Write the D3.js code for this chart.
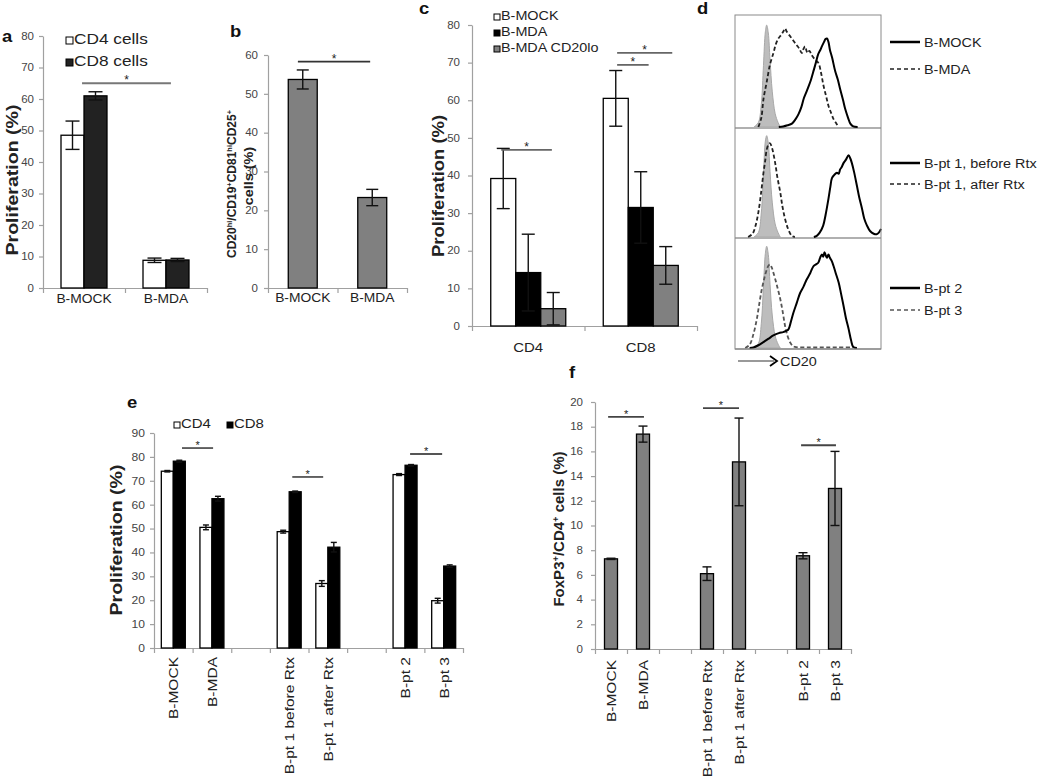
<!DOCTYPE html>
<html><head><meta charset="utf-8">
<script src="https://cdn.jsdelivr.net/npm/d3@7"></script>
<style>
body{margin:0;background:#fff}
svg{display:block}
text{font-family:"Liberation Sans",Arial,Helvetica,sans-serif}
</style>
</head><body>
<svg id="chart" width="1050" height="777"></svg>
<script>
// ================= DATA =================
// Panel a
const aCats = ["B-MOCK", "B-MDA"];
const aSeries = ["CD4 cells", "CD8 cells"];
const aCD4 = [48.5, 8.8];
const aCD4err = [4.5, 0.7];
const aCD8 = [61.0, 8.9];
const aCD8err = [1.3, 0.5];
const aTicks = [0, 10, 20, 30, 40, 50, 60, 70, 80];
const aSig = [[0.476, 1.56, 65]];          // [from (category units), to, value]

// Panel b
const bCats = ["B-MOCK", "B-MDA"];
const bValues = [53.7, 23.3];
const bErr = [2.45, 2.1];
const bTicks = [0, 10, 20, 30, 40, 50, 60];
const bSig = [[0.43, 1.47, 58.3]];

// Panel c
const cCats = ["CD4", "CD8"];
const cSeries = ["B-MOCK", "B-MDA", "B-MDA CD20lo"];
const cMock = [39.2, 60.5];
const cMockErr = [8.0, 7.4];
const cMda = [14.2, 31.5];
const cMdaErr = [10.2, 9.5];
const cLo = [4.6, 16.1];
const cLoErr = [4.3, 5.0];
const cTicks = [0, 10, 20, 30, 40, 50, 60, 70, 80];
const cSig = [[0.26, 0.71, 46.8], [1.29, 1.57, 69.4], [1.29, 1.78, 72.6]];

// Panel d (flow histograms, x: CD20 intensity 0-100, y: % of max)
const dLegend = [["B-MOCK", "B-MDA"], ["B-pt 1, before Rtx", "B-pt 1, after Rtx"], ["B-pt 2", "B-pt 3"]];
const dControl1 = [[13,0],[16,4],[18,20],[19.5,55],[20.8,85],[21.7,91],[22.8,84],[24,60],[25.5,32],[27.5,12],[29.5,4],[31,0]];
const dControl2 = [[13,0],[16,4],[18,22],[19.5,58],[20.8,88],[21.7,93],[22.8,86],[24,60],[25.5,32],[27.5,12],[29.5,4],[31,0]];
const dControl3 = [[13,0],[16,4],[18,22],[19.5,56],[20.8,86],[21.7,92.5],[22.8,85],[24,58],[25.5,30],[27.5,11],[29.5,3.5],[31,0]];
const dSolid1 = [[30,0],[33,0.5],[36,1.5],[39,3],[41.5,7],[43.5,11.5],[45.5,18],[47,25],[48.5,30],[50,35],[52,42],[54,51],[55.5,58],[57,65],[58.5,69],[59.5,72],[61,76],[62,78.5],[63,79],[64,76],[65,69],[66.5,62],[68.6,50],[70.5,42],[72,34],[74,24],[75.5,16],[77.5,8],[79,3],[81,0.5],[84,0]];
const dDash1 = [[16,0],[18,8],[19.5,25],[21.7,40],[24,56],[26.3,66],[28,74],[29.7,79],[31.5,82],[33,85],[34.3,88],[35.5,85],[37.8,81],[40,77],[42.3,73],[44,70],[45.8,66],[47,70],[48,72],[49,68],[49.7,66],[51,68],[52.6,64],[55,60],[57.2,57],[59,48],[60.6,37],[62.5,27],[64,19],[66,12],[67.5,7],[69.5,3],[71,0]];
const dSolid2 = [[54,0],[56,1],[58,4],[60.4,10.5],[62,20],[64,35],[65.3,46],[66.4,54],[68,57],[69.8,59],[71,58],[72,62],[73,64],[74.4,68],[76,71],[77.8,75],[79,72],[80,68],[81.5,60],[83.5,47],[85,37],[87,26],[88.5,17],[90.4,10.5],[92.5,5.5],[95,3],[97,2.5],[98.5,4],[100,7.5]];
const dDash2 = [[9,0],[12,3],[14,10],[16,22.6],[18,42],[19.5,59],[20.7,70],[21.7,80],[23,85],[24,86],[25.3,82],[27.5,68],[29,55],[31,41],[32.5,28],[34.3,16.5],[36.5,7],[39,1],[41,0]];
const dSolid3 = [[10,0],[12.6,0.5],[16,2.5],[19.5,5.4],[23,8.5],[26.3,11.4],[30,13.5],[33,14.4],[35,15.5],[36.6,17],[38.3,24],[40,32],[42.3,41],[44.6,50],[47,56],[49,62],[51.5,68],[53.8,74.5],[55.5,76],[57,77.5],[58.3,82],[59.5,85],[60.4,83],[61.3,87],[62.2,84],[63,82],[64,85],[65,82],[66.3,79],[67.5,74.5],[69,68],[71,59.5],[72.7,49],[74.4,38],[76,27],[77.8,17.4],[79.5,7],[81,1],[83.5,0]];
const dDash3 = [[7,0],[10,3],[12.5,12],[14.9,26],[16.5,39],[18.3,53],[20,63],[21.7,71],[23,75],[24,76],[25.2,73],[26.3,68.5],[28.5,58],[31,44.5],[32.8,32],[34.3,20],[36,11],[37.8,5],[39.5,2],[41,1],[50,0.5],[60,0.5],[70,0.5],[81,0.5]];
const dAxisLabel = "CD20";

// Panel e
const eCats = ["B-MOCK", "B-MDA", "", "B-pt 1 before Rtx", "B-pt 1 after Rtx", "", "B-pt 2", "B-pt 3"];
const eSeries = ["CD4", "CD8"];
const eCD4 = [74.0, 50.5, null, 48.7, 27.0, null, 72.6, 19.8];
const eCD4err = [0.3, 1.0, null, 0.6, 1.2, null, 0.4, 1.0];
const eCD8 = [78.2, 62.5, null, 65.4, 42.2, null, 76.5, 34.3];
const eCD8err = [0.4, 1.0, null, 0.3, 2.0, null, 0.3, 0.5];
const eTicks = [0, 10, 20, 30, 40, 50, 60, 70, 80, 90];
const eSig = [[0.725, 1.53, 83.7], [3.58, 4.38, 71.6], [6.63, 7.46, 81.2]];

// Panel f
const fCats = ["B-MOCK", "B-MDA", "", "B-pt 1 before Rtx", "B-pt 1 after Rtx", "", "B-pt 2", "B-pt 3"];
const fValues = [7.3, 17.4, null, 6.1, 15.15, null, 7.55, 13.0];
const fErr = [0.05, 0.65, null, 0.55, 3.55, null, 0.25, 3.0];
const fTicks = [0, 2, 4, 6, 8, 10, 12, 14, 16, 18, 20];
const fSig = [[0.41, 1.53, 18.8], [3.375, 4.5, 19.5], [6.44, 7.53, 16.5]];

// ================= DRAWING =================
const svg = d3.select("#chart");
svg.append("rect").attr("width", 1050).attr("height", 777).attr("fill", "#fff");
const AX = "#a0a0a0", TXT = "#444", INK = "#222";
const WIDEN = 1.15;

function yAxis(y, x, ticks, pad, fs) {
  const g = svg.append("g").attr("transform", `translate(${x},0)`)
    .call(d3.axisLeft(y).tickValues(ticks).tickSize(4).tickSizeOuter(0).tickPadding(pad));
  g.select(".domain").attr("stroke", AX).attr("stroke-width", 1.2);
  g.selectAll(".tick line").attr("stroke", AX).attr("stroke-width", 1.2);
  g.selectAll(".tick text").attr("fill", TXT).attr("font-size", fs).attr("font-family", null);
  return g;
}
function xAxis(n, x0, x1, yPix) {
  const xi = d3.scaleLinear([0, n], [x0, x1]);
  const g = svg.append("g").attr("transform", `translate(0,${yPix})`)
    .call(d3.axisBottom(xi).tickValues(d3.range(n + 1)).tickFormat("").tickSize(5).tickSizeOuter(0));
  g.select(".domain").attr("stroke", AX).attr("stroke-width", 1.2);
  g.selectAll(".tick line").attr("stroke", AX).attr("stroke-width", 1.2);
  return xi;
}
function groupBars(nCats, x0, x1, y, series, errs, fills, padOuter, capW) {
  const band = d3.scaleBand().domain(d3.range(nCats)).range([x0, x1]);
  const inner = d3.scaleBand().domain(d3.range(series.length)).range([0, band.bandwidth()]).paddingOuter(padOuter);
  const recs = [];
  series.forEach((s, j) => s.forEach((v, i) => { if (v != null) recs.push({ i, j, v, e: errs[j][i] }); }));
  const g = svg.append("g");
  g.selectAll("rect").data(recs).join("rect")
    .attr("x", d => band(d.i) + inner(d.j)).attr("width", inner.bandwidth())
    .attr("y", d => y(d.v)).attr("height", d => y(0) - y(d.v))
    .attr("fill", d => fills[d.j]).attr("stroke", "#000").attr("stroke-width", 1.3);
  const cx = d => band(d.i) + inner(d.j) + inner.bandwidth() / 2;
  const eb = g.selectAll("g.err").data(recs).join("g").attr("class", "err");
  eb.append("line").attr("x1", cx).attr("x2", cx)
    .attr("y1", d => y(d.v - d.e)).attr("y2", d => y(d.v + d.e));
  eb.append("line").attr("x1", d => cx(d) - capW / 2).attr("x2", d => cx(d) + capW / 2)
    .attr("y1", d => y(d.v + d.e)).attr("y2", d => y(d.v + d.e));
  eb.append("line").attr("x1", d => cx(d) - capW / 2).attr("x2", d => cx(d) + capW / 2)
    .attr("y1", d => y(d.v - d.e)).attr("y2", d => y(d.v - d.e));
  eb.selectAll("line").attr("stroke", "#111").attr("stroke-width", 1.4);
  return band;
}
function sig(xi, y, list, color, fs) {
  const g = svg.append("g");
  list.forEach(s => {
    g.append("line").attr("x1", xi(s[0])).attr("x2", xi(s[1]))
      .attr("y1", y(s[2])).attr("y2", y(s[2])).attr("stroke", color).attr("stroke-width", 1.8);
    g.append("text").attr("x", (xi(s[0]) + xi(s[1])) / 2).attr("y", y(s[2]) + 1)
      .attr("text-anchor", "middle").attr("font-size", fs).attr("fill", INK).text("*");
  });
}
function vTitle(x, y, fs, str) {
  svg.append("text").attr("transform", `translate(${x},${y}) rotate(-90)`)
    .attr("text-anchor", "middle").attr("font-size", fs).attr("font-weight", "bold")
    .attr("fill", INK).text(str);
}
function vTitleSup(x, y, fs, parts) {
  const t = svg.append("text").attr("transform", `translate(${x},${y}) rotate(-90)`)
    .attr("text-anchor", "middle").attr("font-size", fs).attr("font-weight", "bold").attr("fill", INK);
  parts.forEach(p => {
    const ts = t.append("tspan").text(p[0]);
    if (p[1]) ts.attr("font-size", fs * 0.62).attr("baseline-shift", "super");
  });
}
function label(x, y, str) {
  svg.append("text").attr("x", x).attr("y", y).attr("font-size", 16).attr("font-weight", "bold")
    .attr("fill", "#111").text(str);
}
function xLabels(band, cats, y, fs) {
  svg.append("g").selectAll("text").data(cats).join("text")
    .attr("x", (d, i) => band(i) + band.bandwidth() / 2).attr("y", y)
    .attr("text-anchor", "middle").attr("font-size", fs).attr("fill", INK).text(d => d);
}
function xLabelsRot(band, cats, y, fs, dx) {
  svg.append("g").selectAll("text").data(cats).join("text")
    .attr("transform", (d, i) => `translate(${band(i) + band.bandwidth() / 2 + dx},${y}) rotate(-90)`)
    .attr("text-anchor", "end").attr("font-size", fs).attr("fill", INK).text(d => d);
}
function legendBox(x, y, fill, str, fs, sz) {
  svg.append("rect").attr("x", x).attr("y", y - sz).attr("width", sz).attr("height", sz)
    .attr("fill", fill).attr("stroke", "#000").attr("stroke-width", 1);
  svg.append("text").attr("x", x + sz + 1).attr("y", y).attr("font-size", fs).attr("fill", INK).text(str);
}

// ---------- Panel a ----------
const aY = d3.scaleLinear([0, 80], [288, 36]);
yAxis(aY, 43, aTicks, 5, 10);
const aXi = xAxis(aCats.length, 43, 207, 288);
const aBand = groupBars(aCats.length, 43, 207, aY, [aCD4, aCD8], [aCD4err, aCD8err], ["#fff", "#222"], 0.783, 14);
sig(aXi, aY, aSig, "#777", 12);
xLabels(aBand, aCats, 303, 12);
legendBox(66, 44, "#fff", aSeries[0], 15, 7);
legendBox(66, 66, "#222", aSeries[1], 15, 7);
vTitle(18, 180, 17, "Proliferation (%)");
label(2, 42, "a");

// ---------- Panel b ----------
const bY = d3.scaleLinear([0, 60], [288, 55]);
yAxis(bY, 268, bTicks, 6, 10);
const bXi = xAxis(bCats.length, 268, 407, 288);
const bBand = groupBars(bCats.length, 268, 407, bY, [bValues], [bErr], ["#808080"], 0.7, 12);
sig(bXi, bY, bSig, "#333", 12);
xLabels(bBand, bCats, 302, 12);
vTitleSup(236, 184, 12, [["CD20", 0], ["hi", 1], ["/CD19", 0], ["+", 1], ["CD81", 0], ["hi", 1], ["CD25", 0], ["+", 1]]);
vTitle(253, 176, 12.5, "cells (%)");
label(230, 37, "b");

// ---------- Panel c ----------
const cY = d3.scaleLinear([0, 80], [326, 25]);
yAxis(cY, 472, cTicks, 8, 10);
const cXi = xAxis(cCats.length, 472, 697, 326);
const cBand = groupBars(cCats.length, 472, 697, cY, [cMock, cMda, cLo], [cMockErr, cMdaErr, cLoErr], ["#fff", "#000", "#808080"], 0.75, 13);
sig(cXi, cY, cSig, "#666", 12);
xLabels(cBand, cCats, 352, 13);
legendBox(494, 20, "#fff", cSeries[0], 12.5, 6);
legendBox(494, 36, "#000", cSeries[1], 12.5, 6);
legendBox(494, 52, "#808080", cSeries[2], 12.5, 6);
vTitle(444, 186, 16, "Proliferation (%)");
label(419, 14, "c");

// ---------- Panel d ----------
const dX = d3.scaleLinear([0, 100], [735, 881]);
const dPanels = [[15, 128], [128, 238], [238, 349]];
const dControls = [dControl1, dControl2, dControl3];
const dSolids = [dSolid1, dSolid2, dSolid3];
const dDashes = [dDash1, dDash2, dDash3];
const dLegY = [[42, 69], [163, 184], [288, 310]];
dPanels.forEach((p, k) => {
  const yD = d3.scaleLinear([0, 100], [p[1] - 1, p[0]]);
  const area = d3.area().x(d => dX(d[0])).y0(yD(0)).y1(d => yD(d[1])).curve(d3.curveCatmullRom);
  const line = d3.line().x(d => dX(d[0])).y(d => yD(d[1])).curve(d3.curveCatmullRom);
  svg.append("path").attr("d", area(dControls[k])).attr("fill", "#bdbdbd").attr("stroke", "#a8a8a8").attr("stroke-width", 1);
  svg.append("line").attr("x1", dX(0)).attr("x2", dX(100)).attr("y1", p[1]).attr("y2", p[1])
    .attr("stroke", "#b0b0b0").attr("stroke-width", 2);
  svg.append("path").attr("d", line(dDashes[k])).attr("fill", "none")
    .attr("stroke", k === 2 ? "#555" : "#222").attr("stroke-width", 1.8).attr("stroke-dasharray", "4,2.5");
  svg.append("path").attr("d", line(dSolids[k])).attr("fill", "none")
    .attr("stroke", "#000").attr("stroke-width", 2);
  dLegend[k].forEach((lab, j) => {
    const ly = dLegY[k][j];
    svg.append("line").attr("x1", 890).attr("x2", 920).attr("y1", ly).attr("y2", ly)
      .attr("stroke", j === 0 ? "#000" : (k === 2 ? "#555" : "#222"))
      .attr("stroke-width", j === 0 ? 2.5 : 1.6).attr("stroke-dasharray", j === 0 ? null : "4,3");
    svg.append("text").attr("x", 924).attr("y", ly + 4.5).attr("font-size", 12.5).attr("fill", INK).text(lab);
  });
});
svg.append("rect").attr("x", 735).attr("y", 15).attr("width", 146).attr("height", 334)
  .attr("fill", "none").attr("stroke", "#8a8a8a").attr("stroke-width", 1);
svg.append("line").attr("x1", 738).attr("x2", 774).attr("y1", 361).attr("y2", 361).attr("stroke", "#777").attr("stroke-width", 1.6);
svg.append("path").attr("d", "M770,356 L777,361 L770,366").attr("fill", "none").attr("stroke", "#000").attr("stroke-width", 1.8);
svg.append("text").attr("x", 780).attr("y", 366).attr("font-size", 12.5).attr("fill", INK).text(dAxisLabel);
label(697, 14, "d");

// ---------- Panel e ----------
const eY = d3.scaleLinear([0, 90], [648, 433]);
yAxis(eY, 154, eTicks, 5, 10.5);
const eXi = xAxis(eCats.length, 154, 463, 648);
const eBand = groupBars(eCats.length, 154, 463, eY, [eCD4, eCD8], [eCD4err, eCD8err], ["#fff", "#000"], 0.61, 6);
sig(eXi, eY, eSig, "#555", 11);
xLabelsRot(eBand, eCats, 657, 13.5, 5);
legendBox(174, 428, "#fff", eSeries[0], 13, 6);
legendBox(227, 428, "#000", eSeries[1], 13, 6);
vTitle(122, 540, 17, "Proliferation (%)");
label(127, 408, "e");

// ---------- Panel f ----------
const fY = d3.scaleLinear([0, 20], [649, 402]);
yAxis(fY, 595, fTicks, 8, 10);
const fXi = xAxis(fCats.length, 595, 851, 649);
const fBand = groupBars(fCats.length, 595, 851, fY, [fValues], [fErr], ["#808080"], 0.73, 9);
sig(fXi, fY, fSig, "#444", 11);
xLabelsRot(fBand, fCats, 660, 13.5, 5);
vTitleSup(564, 529, 15, [["FoxP3", 0], ["+", 1], ["/CD4", 0], ["+", 1], [" cells (%)", 0]]);
label(569, 378, "f");

// widen plain texts slightly to match the reference typeface proportions
svg.selectAll("text").each(function () {
  if (this.querySelector("tspan")) return;
  if (this.textContent === "*") return;
  const L = this.getComputedTextLength();
  if (L > 0) { this.setAttribute("textLength", L * WIDEN); this.setAttribute("lengthAdjust", "spacingAndGlyphs"); }
});
</script>
</body></html>
